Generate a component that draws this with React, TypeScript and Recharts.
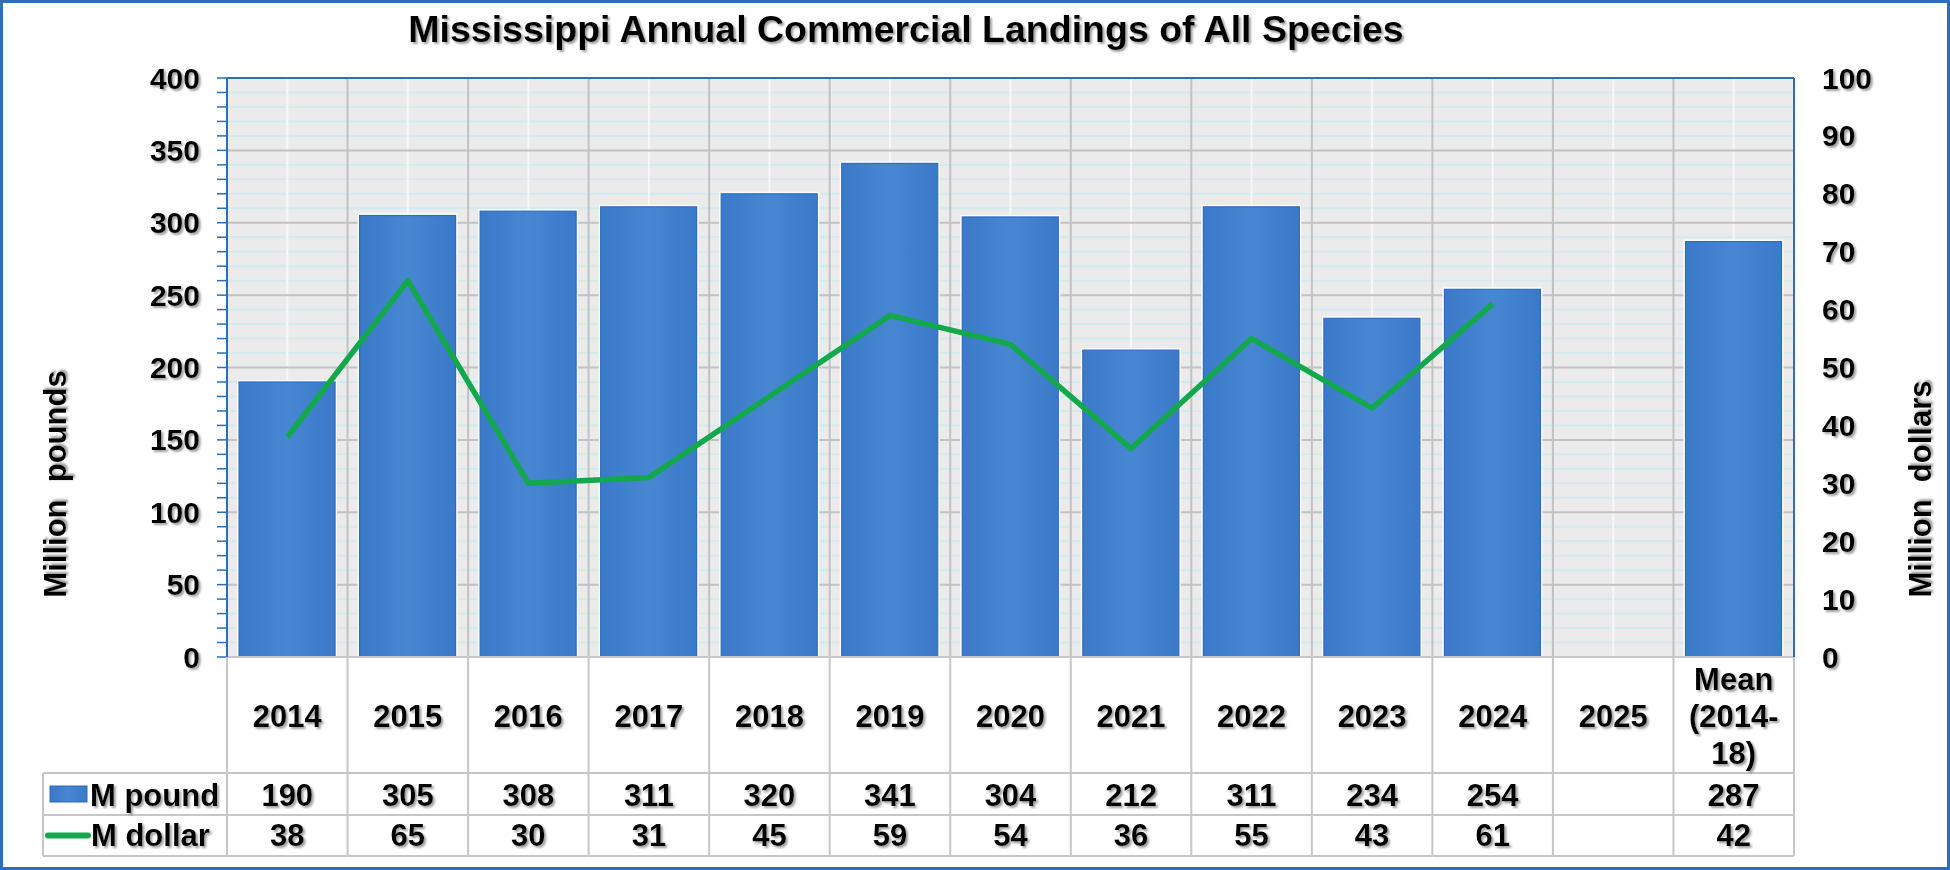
import React from 'react';
import { ComposedChart, Bar, Line, XAxis, YAxis, CartesianGrid, ReferenceLine } from 'recharts';

// ---------- data ----------
const categories = ['2014', '2015', '2016', '2017', '2018', '2019', '2020', '2021', '2022', '2023', '2024', '2025', 'Mean (2014-18)'];
const categoryLabelLines = [
  ['2014'], ['2015'], ['2016'], ['2017'], ['2018'], ['2019'], ['2020'], ['2021'], ['2022'], ['2023'], ['2024'], ['2025'],
  ['Mean', '(2014-', '18)'],
];
const poundValues: (number | null)[] = [190, 305, 308, 311, 320, 341, 304, 212, 311, 234, 254, null, 287];
const dollarValues: (number | null)[] = [38, 65, 30, 31, 45, 59, 54, 36, 55, 43, 61, null, 42];
const dollarLineValues: (number | null)[] = [38, 65, 30, 31, 45, 59, 54, 36, 55, 43, 61, null, null];
const seriesNames = ['M pound', 'M dollar'];

const leftMajorTicks = [0, 50, 100, 150, 200, 250, 300, 350, 400];
const leftAllTicks = [
  0, 10, 20, 30, 40, 50, 60, 70, 80, 90, 100, 110, 120, 130, 140, 150, 160, 170, 180, 190, 200,
  210, 220, 230, 240, 250, 260, 270, 280, 290, 300, 310, 320, 330, 340, 350, 360, 370, 380, 390, 400,
];
const leftMinorTicks = leftAllTicks.filter((v) => leftMajorTicks.indexOf(v) < 0);
const rightTicks = [0, 10, 20, 30, 40, 50, 60, 70, 80, 90, 100];
const gridBoundaries = [1, 2, 3, 4, 5, 6, 7, 8, 9, 10, 11, 12];
const gridCenters = [0.5, 1.5, 2.5, 3.5, 4.5, 5.5, 6.5, 7.5, 8.5, 9.5, 10.5, 11.5, 12.5];

const chartTitle = 'Mississippi Annual Commercial Landings of All Species';
const leftTitle = 'Million  pounds';
const rightTitle = 'Million  dollars';

const data = categories.map((c, i) => ({
  category: c,
  idx: i,
  pound: poundValues[i],
  dollar: dollarLineValues[i],
}));

// ---------- layout & style ----------
const W = 1950;
const H = 870;
const PLOT_L = 227;
const PLOT_R = 1794;
const PLOT_T = 78;
const PLOT_B = 657;
const AXIS_W = 100;
const XAXIS_H = 199;
const ROW1 = 116; // offsets from table top
const ROW2 = 158;
const ROW3 = 199;
const LEGEND_L = 43;

const BLUE_AXIS = '#2E6DB7';
const GRID_MAJOR = '#C2C2C2';
const GRID_MINOR = '#D3EAEF';
const PLOT_BG = '#EBEBEB';
const TABLE_LINE = '#C6C6C6';
const LINE_GREEN = '#12A84B';
const FONT = "'Liberation Sans', Arial, sans-serif";

const labelStyle: React.CSSProperties = {
  fontFamily: FONT,
  fontWeight: 700,
  fontSize: 30,
  fill: '#000',
};
const tableStyle: React.CSSProperties = { ...labelStyle, fontSize: 31 };

const LeftTick = (props: any) => {
  const { x, y, payload } = props;
  if (leftMajorTicks.indexOf(payload.value) < 0) return <g />;
  return (
    <text x={x} y={y} textAnchor="end" dominantBaseline="central" style={labelStyle} filter="url(#ts)">
      {payload.value}
    </text>
  );
};

const RightTick = (props: any) => {
  const { x, y, payload } = props;
  return (
    <text x={x} y={y} textAnchor="start" dominantBaseline="central" style={labelStyle} filter="url(#ts)">
      {payload.value}
    </text>
  );
};

const XTick = (props: any) => {
  const { x, y, payload } = props;
  const i: number = payload.index ?? categories.indexOf(payload.value);
  const hb = (PLOT_R - PLOT_L) / categories.length / 2;
  const top = y;
  const L = x - hb;
  const R = x + hb;
  const lines = categoryLabelLines[i] || [String(payload.value)];
  const labelCenter = top + 59;
  const lineGap = 37;
  const startY = labelCenter - ((lines.length - 1) * lineGap) / 2;
  const pv = poundValues[i];
  const dv = dollarValues[i];
  return (
    <g>
      <line x1={L} x2={L} y1={top} y2={top + ROW3} stroke={TABLE_LINE} strokeWidth={2} />
      {i === categories.length - 1 && (
        <line x1={R} x2={R} y1={top} y2={top + ROW3} stroke={TABLE_LINE} strokeWidth={2} />
      )}
      <line x1={L} x2={R} y1={top + ROW1} y2={top + ROW1} stroke={TABLE_LINE} strokeWidth={2} />
      <line x1={L} x2={R} y1={top + ROW2} y2={top + ROW2} stroke={TABLE_LINE} strokeWidth={2} />
      <line x1={L} x2={R} y1={top + ROW3} y2={top + ROW3} stroke={TABLE_LINE} strokeWidth={2} />
      {lines.map((t, k) => (
        <text key={k} x={x} y={startY + k * lineGap} textAnchor="middle" dominantBaseline="central" style={tableStyle} filter="url(#ts)">
          {t}
        </text>
      ))}
      {pv != null && (
        <text x={x} y={top + (ROW1 + ROW2) / 2 + 1} textAnchor="middle" dominantBaseline="central" style={tableStyle} filter="url(#ts)">
          {pv}
        </text>
      )}
      {dv != null && (
        <text x={x} y={top + (ROW2 + ROW3) / 2} textAnchor="middle" dominantBaseline="central" style={tableStyle} filter="url(#ts)">
          {dv}
        </text>
      )}
      {i === 0 && (
        <g>
          <line x1={LEGEND_L} x2={L} y1={top + ROW1} y2={top + ROW1} stroke={TABLE_LINE} strokeWidth={2} />
          <line x1={LEGEND_L} x2={L} y1={top + ROW2} y2={top + ROW2} stroke={TABLE_LINE} strokeWidth={2} />
          <line x1={LEGEND_L} x2={L} y1={top + ROW3} y2={top + ROW3} stroke={TABLE_LINE} strokeWidth={2} />
          <line x1={LEGEND_L} x2={LEGEND_L} y1={top + ROW1} y2={top + ROW3} stroke={TABLE_LINE} strokeWidth={2} />
          <rect x={50} y={top + (ROW1 + ROW2) / 2 - 8} width={37} height={16} fill="url(#barGrad)" stroke={BLUE_AXIS} strokeWidth={1} />
          <text x={90} y={top + (ROW1 + ROW2) / 2 + 1} textAnchor="start" dominantBaseline="central" style={tableStyle} filter="url(#ts)">
            {seriesNames[0]}
          </text>
          <line x1={48} x2={88} y1={top + (ROW2 + ROW3) / 2} y2={top + (ROW2 + ROW3) / 2} stroke={LINE_GREEN} strokeWidth={6} strokeLinecap="round" />
          <text x={91} y={top + (ROW2 + ROW3) / 2} textAnchor="start" dominantBaseline="central" style={tableStyle} filter="url(#ts)">
            {seriesNames[1]}
          </text>
        </g>
      )}
    </g>
  );
};

const BarShape = (props: any) => {
  const { x, y, width, height } = props;
  if (!height || height <= 0 || width == null) return <g />;
  return (
    <g>
      <rect x={x - 2} y={y - 2} width={width + 4} height={height + 2} fill="#FFFFFF" />
      <rect x={x} y={y} width={width} height={height} fill="url(#barGrad)" stroke="#2D6CC2" strokeWidth={1.2} />
    </g>
  );
};

export default function App() {
  return (
    <div style={{ position: 'absolute', left: 0, top: 0, width: W, height: H, background: '#fff' }}>
      <ComposedChart
        width={W}
        height={H}
        data={data}
        margin={{ top: PLOT_T, left: PLOT_L - AXIS_W, right: W - PLOT_R - AXIS_W, bottom: H - PLOT_B - XAXIS_H }}
      >
        <CartesianGrid
          xAxisId="grid"
          yAxisId="left"
          fill={PLOT_BG}
          vertical={false}
          horizontalValues={leftMinorTicks}
          stroke={GRID_MINOR}
          strokeWidth={2}
        />
        <CartesianGrid
          xAxisId="grid"
          yAxisId="left"
          horizontal={false}
          verticalValues={gridCenters}
          stroke="#F7F7F7"
          strokeWidth={2}
        />
        <CartesianGrid
          xAxisId="grid"
          yAxisId="left"
          vertical={false}
          horizontalValues={leftMajorTicks}
          stroke={GRID_MAJOR}
          strokeWidth={2}
        />
        <CartesianGrid
          xAxisId="grid"
          yAxisId="left"
          horizontal={false}
          verticalValues={gridBoundaries}
          stroke={GRID_MAJOR}
          strokeWidth={2}
        />
        <XAxis
          xAxisId="grid"
          type="number"
          dataKey="idx"
          domain={[0, 13]}
          allowDataOverflow
          interval={0}
          hide
        />
        <XAxis
          xAxisId="cat"
          dataKey="category"
          type="category"
          height={XAXIS_H}
          interval={0}
          tickLine={false}
          tickSize={0}
          tickMargin={0}
          axisLine={{ stroke: TABLE_LINE, strokeWidth: 2 }}
          tick={<XTick />}
        />
        <YAxis
          yAxisId="left"
          orientation="left"
          width={AXIS_W}
          domain={[0, 400]}
          ticks={leftAllTicks}
          interval={0}
          allowDataOverflow
          tickSize={10}
          tickMargin={17}
          tickLine={{ stroke: BLUE_AXIS, strokeWidth: 1.5 }}
          axisLine={{ stroke: BLUE_AXIS, strokeWidth: 2 }}
          tick={<LeftTick />}
        />
        <YAxis
          yAxisId="right"
          orientation="right"
          width={AXIS_W}
          domain={[0, 100]}
          ticks={rightTicks}
          interval={0}
          allowDataOverflow
          tickLine={false}
          tickSize={0}
          tickMargin={28}
          axisLine={{ stroke: BLUE_AXIS, strokeWidth: 2 }}
          tick={<RightTick />}
        />
        <Bar
          xAxisId="cat"
          yAxisId="left"
          dataKey="pound"
          name={seriesNames[0]}
          barCategoryGap="5%"
          shape={<BarShape />}
          isAnimationActive={false}
        />
        <Line
          xAxisId="cat"
          yAxisId="right"
          dataKey="dollar"
          name={seriesNames[1]}
          type="linear"
          stroke={LINE_GREEN}
          strokeWidth={5.5}
          strokeLinejoin="round"
          dot={false}
          activeDot={false}
          connectNulls={false}
          isAnimationActive={false}
        />
        <ReferenceLine xAxisId="cat" yAxisId="left" y={400} stroke={BLUE_AXIS} strokeWidth={2} />
      </ComposedChart>
      <svg
        width={W}
        height={H}
        style={{ position: 'absolute', left: 0, top: 0, pointerEvents: 'none' }}
      >
        <defs>
          <filter id="ts" x="-10%" y="-30%" width="130%" height="170%">
            <feDropShadow dx="2" dy="2" stdDeviation="1.1" floodColor="#7f7f7f" floodOpacity="0.75" />
          </filter>
          <linearGradient id="barGrad" x1="0" y1="0" x2="1" y2="0">
            <stop offset="0%" stopColor="#3B79C9" />
            <stop offset="50%" stopColor="#4787D2" />
            <stop offset="100%" stopColor="#3B79C9" />
          </linearGradient>
        </defs>
        <rect x={1.5} y={1.5} width={W - 3} height={H - 3} fill="none" stroke={BLUE_AXIS} strokeWidth={3} />
        <text x={906} y={42} textAnchor="middle" style={{ ...labelStyle, fontSize: 37.5 }} filter="url(#ts)">
          {chartTitle}
        </text>
        <text
          transform="translate(66,484) rotate(-90)"
          textAnchor="middle"
          style={{ ...labelStyle, fontSize: 31, whiteSpace: 'pre' }}
          filter="url(#ts)"
        >
          {leftTitle}
        </text>
        <text
          transform="translate(1931,489) rotate(-90)"
          textAnchor="middle"
          style={{ ...labelStyle, fontSize: 31, whiteSpace: 'pre' }}
          filter="url(#ts)"
        >
          {rightTitle}
        </text>
      </svg>
    </div>
  );
}
